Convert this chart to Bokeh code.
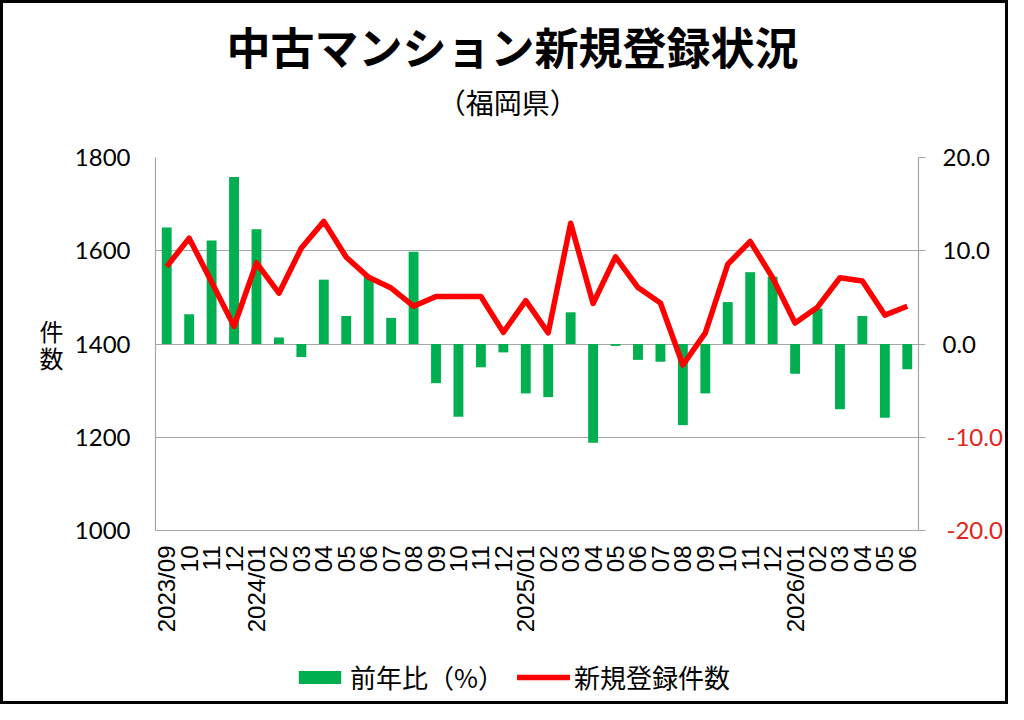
import math
from bokeh.plotting import figure
from bokeh.layouts import column
from bokeh.models import (Range1d, LinearAxis, FixedTicker, Title, Legend, LegendItem,
                          ColumnDataSource)
from bokeh.embed import file_html
from bokeh.resources import INLINE

# ---- data ----
months = ["2023/09", "2023/10", "2023/11", "2023/12",
          "2024/01", "2024/02", "2024/03", "2024/04", "2024/05", "2024/06",
          "2024/07", "2024/08", "2024/09", "2024/10", "2024/11", "2024/12",
          "2025/01", "2025/02", "2025/03", "2025/04", "2025/05", "2025/06",
          "2025/07", "2025/08", "2025/09", "2025/10", "2025/11", "2025/12",
          "2026/01", "2026/02", "2026/03", "2026/04", "2026/05", "2026/06"]
tick_labels = ["2023/09", "10", "11", "12",
               "2024/01", "02", "03", "04", "05", "06", "07", "08", "09", "10", "11", "12",
               "2025/01", "02", "03", "04", "05", "06", "07", "08", "09", "10", "11", "12",
               "2026/01", "02", "03", "04", "05", "06"]
new_listings = [1566, 1627, 1533, 1438, 1574, 1509, 1606, 1663, 1586, 1543,
                1520, 1481, 1502, 1502, 1502, 1425, 1493, 1424, 1659, 1487,
                1587, 1521, 1488, 1355, 1424, 1571, 1620, 1542, 1445, 1479,
                1542, 1535, 1462, 1481]
yoy_pct = [12.5, 3.2, 11.1, 17.9, 12.3, 0.7, -1.4, 6.9, 3.0, 7.2,
           2.8, 9.9, -4.2, -7.8, -2.5, -0.9, -5.3, -5.7, 3.4, -10.6,
           -0.2, -1.7, -1.9, -8.7, -5.3, 4.5, 7.7, 7.2, -3.2, 3.8,
           -7.0, 3.0, -7.9, -2.7]
left_ticks = [1000, 1200, 1400, 1600, 1800]
left_tick_labels = ["1000", "1200", "1400", "1600", "1800"]
right_ticks = [-20, -10, 0, 10, 20]
right_tick_labels = ["-20.0", "-10.0", "0.0", "10.0", "20.0"]

title_text = "中古マンション新規登録状況"
subtitle_text = "（福岡県）"
subtitle_pos = 15.2          # centre of the page on the month scale
y_label_chars = ["件", "数"]
y_label_pos = [1429, 1371]   # where the two stacked characters sit on the left scale
bar_name = "前年比（%）"
line_name = "新規登録件数"

JP = "Noto Sans CJK JP"
NUM = "Lato"
GREY = "#A6A6A6"
RED_LABEL = "#E0251B"
GREEN = "#00B050"
RED = "#FF0000"

idx = list(range(len(months)))
src = ColumnDataSource(dict(i=idx, month=months, count=new_listings, yoy=yoy_pct))

p = figure(x_range=Range1d(-0.5, len(months) - 0.5), y_range=Range1d(1000, 1800),
           width=1002, height=647, output_backend="svg", toolbar_location=None,
           min_border_left=152, min_border_right=77, min_border_top=154,
           min_border_bottom=120, outline_line_color=None,
           background_fill_color="white", border_fill_color="white")
p.extra_y_ranges = {"pct": Range1d(-20, 20)}

bars = p.vbar(x="i", top="yoy", bottom=0, width=0.44, y_range_name="pct",
              source=src, fill_color=GREEN, line_color=None)
line = p.line(x="i", y="count", source=src, line_color=RED,
              line_width=5.5, line_join="round")

# grid
p.xgrid.grid_line_color = None
p.ygrid.grid_line_color = GREY
p.ygrid.grid_line_width = 1.2


def plain(ax):
    ax.major_tick_out = 0
    ax.major_tick_in = 0
    ax.minor_tick_out = 0
    ax.minor_tick_in = 0


# left axis (counts)
ya = p.yaxis[0]
ya.ticker = FixedTicker(ticks=left_ticks)
ya.major_label_overrides = dict(zip(left_ticks, left_tick_labels))
plain(ya)
ya.axis_line_color = GREY
ya.axis_line_width = 1.2
ya.major_label_text_font = NUM
ya.major_label_text_font_size = "24px"
ya.major_label_text_color = "#000000"
ya.major_label_standoff = 25

# stacked "件 / 数" label as a second, outer left axis
la = LinearAxis(ticker=FixedTicker(ticks=y_label_pos),
                major_label_overrides=dict(zip(y_label_pos, y_label_chars)))
plain(la)
la.axis_line_color = None
la.major_label_text_font = JP
la.major_label_text_font_size = "24px"
la.major_label_text_color = "#000000"
la.major_label_standoff = 8
p.add_layout(la, "left")

# right axis: line + ticks only
ra = LinearAxis(y_range_name="pct", ticker=FixedTicker(ticks=right_ticks),
                major_label_overrides={t: "" for t in right_ticks})
plain(ra)
ra.major_tick_out = 7
ra.major_tick_line_color = GREY
ra.axis_line_color = GREY
ra.axis_line_width = 1.2
ra.major_label_standoff = 0
p.add_layout(ra, "right")

# right labels, negatives in red
neg = [t for t in right_ticks if t < 0]
pos = [t for t in right_ticks if t >= 0]
lab = dict(zip(right_ticks, right_tick_labels))
ra_neg = LinearAxis(y_range_name="pct", ticker=FixedTicker(ticks=neg),
                    major_label_overrides={t: lab[t] for t in neg})
plain(ra_neg)
ra_neg.axis_line_color = None
ra_neg.major_label_text_font = NUM
ra_neg.major_label_text_font_size = "24px"
ra_neg.major_label_text_color = RED_LABEL
ra_neg.major_label_standoff = 21
p.add_layout(ra_neg, "right")

ra_pos = LinearAxis(y_range_name="pct", ticker=FixedTicker(ticks=pos),
                    major_label_overrides={t: lab[t] for t in pos})
plain(ra_pos)
ra_pos.axis_line_color = None
ra_pos.major_label_text_font = NUM
ra_pos.major_label_text_font_size = "24px"
ra_pos.major_label_text_color = "#000000"
ra_pos.major_label_standoff = -63
p.add_layout(ra_pos, "right")

# x axis
xa = p.xaxis[0]
xa.ticker = FixedTicker(ticks=idx)
xa.major_label_overrides = dict(zip(idx, tick_labels))
xa.major_label_orientation = math.pi / 2
plain(xa)
xa.axis_line_color = GREY
xa.axis_line_width = 1.2
xa.major_label_text_font = "Liberation Sans"
xa.major_label_text_font_size = "24px"
xa.major_label_text_color = "#000000"
xa.major_label_standoff = 15

# subtitle (as a label on an axis above the frame) and title
sa = LinearAxis(ticker=FixedTicker(ticks=[subtitle_pos]),
                major_label_overrides={subtitle_pos: subtitle_text})
plain(sa)
sa.axis_line_color = None
sa.major_label_text_font = JP
sa.major_label_text_font_size = "28px"
sa.major_label_text_color = "#000000"
sa.major_label_standoff = 36
p.add_layout(sa, "above")
p.add_layout(Title(text=title_text, text_font=JP, text_font_size="44px",
                   text_font_style="bold", align="left", offset=71,
                   standoff=1, text_color="#000000"), "above")

# legend strip: swatches come from hidden renderers of the same data
lf = figure(width=1002, height=51, x_range=Range1d(-50, -40), y_range=Range1d(-5000, -4000),
            output_backend="svg", toolbar_location=None, min_border=0,
            outline_line_color=None, x_axis_location=None, y_axis_location=None,
            background_fill_color="white", border_fill_color="white")
lf.xgrid.grid_line_color = None
lf.ygrid.grid_line_color = None
lg_bar = lf.vbar(x="i", top="yoy", source=src, width=0.44, fill_color=GREEN, line_color=None)
lg_line = lf.line(x="i", y="count", source=src, line_color=RED, line_width=5.5,
                  line_cap="round")
lg_bar.visible = False
lg_line.visible = False
legend = Legend(items=[LegendItem(label=bar_name, renderers=[lg_bar]),
                       LegendItem(label=line_name, renderers=[lg_line])],
                orientation="horizontal", location=(138, 6),
                glyph_width=53, glyph_height=16, label_standoff=4, spacing=13,
                label_text_font=JP, label_text_font_size="26px",
                label_text_color="#000000", border_line_color=None,
                background_fill_alpha=0, inactive_fill_alpha=0,
                padding=4, margin=0)
lf.add_layout(legend)

layout = column(p, lf, spacing=0, styles={"border": "3px solid black"})

open("out.html", "w").write(file_html(layout, INLINE))
